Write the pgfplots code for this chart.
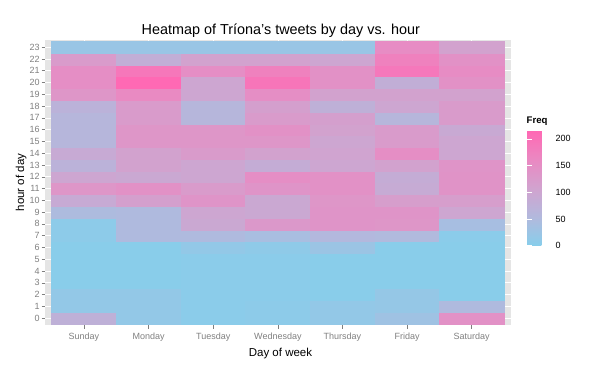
\documentclass[border=0pt]{standalone}
\usepackage{pgfplots}
\pgfplotsset{compat=1.18}
\usepackage{fontspec}
\setmainfont{Liberation Sans}
\pgfplotsset{/pgf/number format/assume math mode=true}
\definecolor{grey50}{RGB}{127,127,127}
\definecolor{panelbg}{RGB}{229,229,229}
\begin{document}
\begin{tikzpicture}[x=1pt,y=1pt]
\path (0,0) rectangle (607,367);
\begin{axis}[
  at={(45.2pt,41.8pt)}, anchor=south west,
  width=465.3pt, height=285.1pt, scale only axis,
  xmin=-0.6, xmax=6.6, ymin=-0.6, ymax=23.6,
  axis background/.style={fill=panelbg},
  axis line style={draw=none},
  xtick={0,...,6},
  xticklabels={Sunday,Monday,Tuesday,Wednesday,Thursday,Friday,Saturday},
  ytick={0,...,23},
  xtick pos=bottom, ytick pos=left,
  tick align=outside, major tick length=3.5pt,
  tick style={grey50, line width=0.5pt},
  xticklabel style={font=\fontsize{9}{10}\selectfont, text=grey50, yshift=-1pt},
  yticklabel style={font=\fontsize{9}{10}\selectfont, text=grey50, xshift=1.5pt},
  grid=major, major grid style={white, line width=0.6pt},
  colormap={gg}{rgb255(0)=(135,206,235) rgb255(1)=(178,185,221) rgb255(2)=(209,163,207) rgb255(3)=(234,137,194) rgb255(4)=(255,105,180)},
  point meta min=0, point meta max=215,
  colorbar,
  colorbar style={
    at={(parent axis.north east)}, anchor=north west,
    xshift=8pt, yshift=-90.7pt,
    width=23pt, height=115pt, scale only axis,
    ytick={0,50,100,150,200},
    yticklabel pos=right,
    yticklabel style={font=\fontsize{9}{10}\selectfont, text=black, xshift=2pt},
    tick style={white, line width=0.6pt}, major tick length=4.5pt, tick align=inside,
    axis line style={draw=none},
  },
]
\addplot[matrix plot*, mesh/cols=7, point meta=explicit] coordinates {
(0,0)[75] (1,0)[15] (2,0)[5] (3,0)[8] (4,0)[15] (5,0)[30] (6,0)[145]
(0,1)[15] (1,1)[15] (2,1)[5] (3,1)[8] (4,1)[15] (5,1)[18] (6,1)[50]
(0,2)[15] (1,2)[15] (2,2)[5] (3,2)[5] (4,2)[3] (5,2)[18] (6,2)[3]
(0,3)[3] (1,3)[3] (2,3)[5] (3,3)[5] (4,3)[3] (5,3)[3] (6,3)[3]
(0,4)[3] (1,4)[3] (2,4)[5] (3,4)[5] (4,4)[3] (5,4)[3] (6,4)[3]
(0,5)[3] (1,5)[3] (2,5)[5] (3,5)[5] (4,5)[3] (5,5)[3] (6,5)[3]
(0,6)[3] (1,6)[3] (2,6)[15] (3,6)[10] (4,6)[25] (5,6)[3] (6,6)[3]
(0,7)[8] (1,7)[50] (2,7)[50] (3,7)[42] (4,7)[55] (5,7)[52] (6,7)[5]
(0,8)[8] (1,8)[50] (2,8)[95] (3,8)[130] (4,8)[138] (5,8)[135] (6,8)[40]
(0,9)[48] (1,9)[50] (2,9)[100] (3,9)[95] (4,9)[138] (5,9)[138] (6,9)[100]
(0,10)[90] (1,10)[115] (2,10)[138] (3,10)[95] (4,10)[135] (5,10)[118] (6,10)[118]
(0,11)[135] (1,11)[145] (2,11)[125] (3,11)[138] (4,11)[145] (5,11)[88] (6,11)[140]
(0,12)[100] (1,12)[95] (2,12)[100] (3,12)[150] (4,12)[145] (5,12)[85] (6,12)[140]
(0,13)[70] (1,13)[110] (2,13)[100] (3,13)[85] (4,13)[100] (5,13)[110] (6,13)[138]
(0,14)[90] (1,14)[110] (2,14)[125] (3,14)[110] (4,14)[105] (5,14)[150] (6,14)[100]
(0,15)[60] (1,15)[135] (2,15)[135] (3,15)[135] (4,15)[100] (5,15)[125] (6,15)[100]
(0,16)[60] (1,16)[135] (2,16)[135] (3,16)[145] (4,16)[110] (5,16)[125] (6,16)[92]
(0,17)[60] (1,17)[125] (2,17)[60] (3,17)[125] (4,17)[115] (5,17)[60] (6,17)[125]
(0,18)[70] (1,18)[125] (2,18)[60] (3,18)[115] (4,18)[75] (5,18)[100] (6,18)[125]
(0,19)[135] (1,19)[160] (2,19)[100] (3,19)[150] (4,19)[110] (5,19)[110] (6,19)[110]
(0,20)[150] (1,20)[215] (2,20)[100] (3,20)[195] (4,20)[145] (5,20)[80] (6,20)[145]
(0,21)[150] (1,21)[192] (2,21)[150] (3,21)[175] (4,21)[145] (5,21)[190] (6,21)[155]
(0,22)[125] (1,22)[80] (2,22)[110] (3,22)[110] (4,22)[100] (5,22)[175] (6,22)[145]
(0,23)[22] (1,23)[22] (2,23)[22] (3,23)[22] (4,23)[22] (5,23)[155] (6,23)[110]
};
\end{axis}
\node[anchor=base, inner sep=0pt, font=\fontsize{14.4}{16}\selectfont] at (280.8,332) {Heatmap of Tríona's tweets by day vs. hour};
\node[anchor=base, inner sep=0pt, font=\fontsize{11.5}{13}\selectfont] at (280.5,10.5) {Day of week};
\node[anchor=base, inner sep=0pt, rotate=90, font=\fontsize{11.5}{13}\selectfont] at (24,184.4) {hour of day};
\node[anchor=west, inner sep=0pt, font=\bfseries\fontsize{9.6}{11}\selectfont] at (526.5,245.5) {Freq};
\end{tikzpicture}
\end{document}
